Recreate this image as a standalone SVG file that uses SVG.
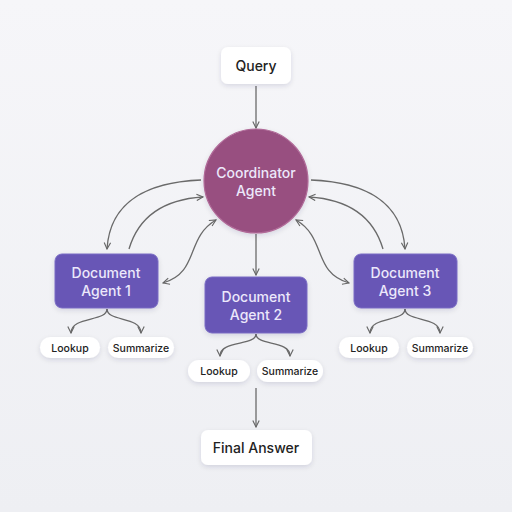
<svg xmlns="http://www.w3.org/2000/svg" width="512" height="512" viewBox="0 0 512 512">
<defs>
<linearGradient id="bg" x1="0" y1="0" x2="0" y2="1"><stop offset="0" stop-color="#f6f6f9"/><stop offset="1" stop-color="#eeeff3"/></linearGradient>
<filter id="sh" x="-30%" y="-30%" width="160%" height="180%"><feDropShadow dx="0" dy="2" stdDeviation="2.5" flood-color="#1a1a40" flood-opacity="0.12"/></filter>
<marker id="ah" viewBox="0 0 10 10" refX="9" refY="5" markerWidth="8" markerHeight="8" orient="auto-start-reverse" markerUnits="userSpaceOnUse"><path d="M1,1 L9,5 L1,9" fill="none" stroke="#666" stroke-width="1.4"/></marker>
<style>
.c{fill:none;stroke:#6a6a6a;stroke-width:1.3}
.pill{fill:#fff;filter:url(#sh)}
.doc{fill:#6757b6;stroke:#7a6cc4;stroke-width:1;filter:url(#sh)}
.t{font-family:Inter,"Liberation Sans",sans-serif;text-anchor:middle;font-weight:500}
.w{fill:#ece8fb;font-size:14px}
.k{fill:#222;font-size:14px}
.s{fill:#222;font-size:10.5px}
</style>
</defs>
<rect width="512" height="512" fill="url(#bg)"/>
<g id="connectors">
<path class="c" d="M256,86 V128" marker-end="url(#ah)"/>
<path class="c" d="M256,234 V275" marker-end="url(#ah)"/>
<path class="c" d="M256,388 V427" marker-end="url(#ah)"/>
<path class="c" d="M201,180 C150,182 110,200 107,249" marker-end="url(#ah)"/>
<path class="c" d="M129,249 C140,212 170,199 203,197" marker-end="url(#ah)"/>
<path class="c" d="M163,283 C200,272 185,238 216,220" marker-start="url(#ah)" marker-end="url(#ah)"/>
<path class="c" d="M311,180 C362,182 402,200 405,249" marker-end="url(#ah)"/>
<path class="c" d="M383,249 C372,212 342,199 309,197" marker-end="url(#ah)"/>
<path class="c" d="M349,283 C312,272 327,238 296,220" marker-start="url(#ah)" marker-end="url(#ah)"/>
<path class="c" d="M107,309 C107,322 71,316 71,333" marker-end="url(#ah)"/>
<path class="c" d="M107,309 C107,322 141,316 141,333" marker-end="url(#ah)"/>
<path class="c" d="M256,334 C256,346 220,340 220,356" marker-end="url(#ah)"/>
<path class="c" d="M256,334 C256,346 290,340 290,356" marker-end="url(#ah)"/>
<path class="c" d="M405,309 C405,322 370,316 370,333" marker-end="url(#ah)"/>
<path class="c" d="M405,309 C405,322 440,316 440,333" marker-end="url(#ah)"/>
</g>
<g id="query"><rect class="pill" x="221" y="47" width="70" height="37" rx="7"/><text class="t k" x="256" y="71">Query</text></g>
<g id="coordinator"><circle cx="256" cy="181" r="52" fill="#984f80" stroke="#b06a98" stroke-width="1.2" filter="url(#sh)"/><text class="t w" x="256" y="178">Coordinator</text><text class="t w" x="256" y="196">Agent</text></g>
<g id="doc1"><rect class="doc" x="55" y="254" width="103" height="54" rx="7"/><text class="t w" x="106" y="278">Document</text><text class="t w" x="106" y="296">Agent 1</text></g>
<g id="doc2"><rect class="doc" x="205" y="277" width="102" height="56" rx="7"/><text class="t w" x="256" y="302">Document</text><text class="t w" x="256" y="320">Agent 2</text></g>
<g id="doc3"><rect class="doc" x="354" y="254" width="103" height="54" rx="7"/><text class="t w" x="405" y="278">Document</text><text class="t w" x="405" y="296">Agent 3</text></g>
<g id="lookup1"><rect class="pill" x="40" y="337" width="60" height="21" rx="10.5"/><text class="t s" x="70" y="351.5">Lookup</text></g>
<g id="summarize1"><rect class="pill" x="108" y="337" width="66" height="21" rx="10.5"/><text class="t s" x="141" y="351.5">Summarize</text></g>
<g id="lookup2"><rect class="pill" x="188" y="360" width="62" height="22" rx="11"/><text class="t s" x="219" y="374.5">Lookup</text></g>
<g id="summarize2"><rect class="pill" x="257" y="360" width="66" height="22" rx="11"/><text class="t s" x="290" y="374.5">Summarize</text></g>
<g id="lookup3"><rect class="pill" x="339" y="337" width="60" height="21" rx="10.5"/><text class="t s" x="369" y="351.5">Lookup</text></g>
<g id="summarize3"><rect class="pill" x="407" y="337" width="66" height="21" rx="10.5"/><text class="t s" x="440" y="351.5">Summarize</text></g>
<g id="final"><rect class="pill" x="201" y="430" width="111" height="35" rx="7"/><text class="t k" x="256" y="453">Final Answer</text></g>
</svg>
